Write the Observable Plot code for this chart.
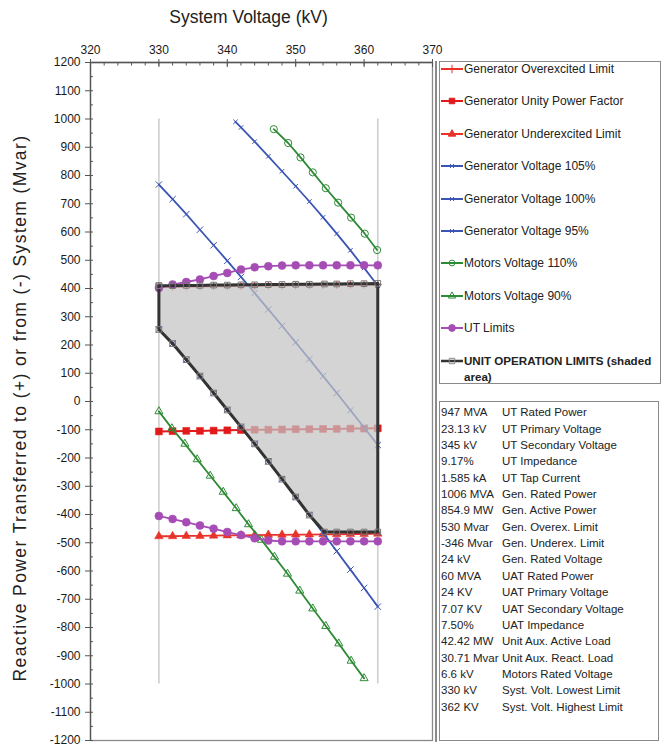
<!DOCTYPE html>
<html><head><meta charset="utf-8">
<script src="https://cdn.jsdelivr.net/npm/d3@7"></script>
<script src="https://cdn.jsdelivr.net/npm/@observablehq/plot@0.6"></script>
<style>
body{margin:0;background:#fff;font-family:"Liberation Sans",Arial,sans-serif;color:#222;}
#wrap{position:relative;width:668px;height:744px;overflow:hidden;background:#fff;}
#chart{position:absolute;left:0;top:0;}
.xtitle{position:absolute;left:90px;width:317px;top:7px;text-align:center;font-size:17.5px;line-height:20px;white-space:nowrap;}
.ytitle{position:absolute;left:20px;top:408px;transform:translate(-50%,-50%) rotate(-90deg);font-size:17.5px;line-height:20px;white-space:nowrap;letter-spacing:1.4px;}
.frameR{position:absolute;left:435px;top:61px;width:1.5px;height:681px;background:#8a8a8a;}
#legend{position:absolute;left:439px;top:61px;width:220px;height:321px;border:1px solid #8a8a8a;}
.lrow{position:absolute;left:1px;height:16px;display:flex;align-items:center;font-size:12px;white-space:nowrap;}
.lrow svg{flex:none;margin-right:1px;}
#info{position:absolute;left:439px;top:401px;width:218px;height:338px;border:1px solid #8a8a8a;font-size:11.5px;}
.irow{position:absolute;left:1px;height:16px;line-height:16px;white-space:nowrap;}
.irow .v{display:inline-block;width:61px;}
</style>
</head><body>
<div id="wrap">
  <div id="chart"></div>
  <div class="xtitle">System Voltage (kV)</div>
  <div class="ytitle">Reactive Power Transferred to (+) or from (-) System (Mvar)</div>
  <div class="frameR"></div>
  <div id="legend"></div>
  <div id="info"></div>
</div>
<script>
// ---- axes ----
const xDomain = [320, 370];
const yDomain = [-1200, 1200];
const xMajorTicks = [320, 330, 340, 350, 360, 370];
const yMajorTicks = [1200, 1100, 1000, 900, 800, 700, 600, 500, 400, 300, 200, 100, 0, -100, -200, -300, -400, -500, -600, -700, -800, -900, -1000, -1100, -1200];
const xMinorTicks = d3.range(320, 371, 2);
const yMinorTicks = d3.range(-1200, 1201, 50);

// ---- voltage limit guides ----
const guideVolts = [330, 362];
const guideRange = [-1000, 1000];

// ---- series ----
const volts2 = [330, 332, 334, 336, 338, 340, 342, 344, 346, 348, 350, 352, 354, 356, 358, 360, 362];
const overexQ = [406, 406, 407, 407, 408, 408, 409, 409, 410, 410, 411, 411, 412, 412, 413, 413, 414];
const unityQ = [-106, -105, -104, -104, -103, -102, -101, -100, -100, -99, -98, -98, -97, -97, -96, -96, -95];
const underexQ = [-477, -477, -476, -476, -475, -474, -474, -473, -472, -472, -471, -471, -470, -470, -469, -469, -468];

const genV105Volt = [341.2, 342, 344, 346, 348, 350, 352, 354, 356, 358, 360, 362];
const genV105Q = [990, 970, 920, 868, 815, 762, 708, 652, 594, 535, 473, 410];
const genV100Q = [768, 716, 663, 608, 553, 498, 441, 384, 326, 268, 209, 150, 90, 30, -31, -92, -154];
const genV95Q = [255, 205, 148, 90, 30, -30, -90, -150, -212, -275, -338, -402, -465, -530, -595, -660, -726];

const mot110Volt = [346.8, 348.9, 350.7, 352.5, 354.4, 356.2, 358.1, 360.1, 361.9];
const mot110Q = [964, 915, 864, 811, 755, 704, 651, 594, 536];
const mot90Volt = [330, 331.9, 333.8, 335.6, 337.5, 339.4, 341.3, 343.1, 345.0, 346.9, 348.8, 350.6, 352.5, 354.4, 356.3, 358.1, 360.0];
const mot90Q = [-35, -95, -150, -205, -263, -320, -378, -435, -490, -550, -610, -670, -733, -795, -857, -918, -980];

const utUpperQ = [402, 414, 423, 432, 444, 455, 467, 475, 479, 481, 482, 482, 482, 482, 482, 482, 482];
const utLowerQ = [-405, -416, -427, -439, -450, -462, -473, -484, -492, -495, -495, -495, -495, -495, -495, -495, -495];

const opVolt = [330, 332, 334, 336, 338, 340, 342, 344, 346, 348, 350, 352, 354.2, 356, 358, 360, 362];
const opUpperQ = [410, 410, 411, 411, 412, 412, 413, 413, 414, 414, 415, 415, 416, 416, 417, 417, 418];
const opLowerQ = [255, 205, 148, 90, 30, -30, -90, -150, -212, -275, -338, -402, -462, -462, -462, -462, -462];

// ---- legend / info texts ----
const legendLabels = ["Generator Overexcited Limit", "Generator Unity Power Factor", "Generator Underexcited Limit",
  "Generator Voltage 105%", "Generator Voltage 100%", "Generator Voltage 95%",
  "Motors Voltage 110%", "Motors Voltage 90%", "UT Limits", "UNIT OPERATION LIMITS (shaded area)"];
const infoValues = ["947 MVA", "23.13 kV", "345 kV", "9.17%", "1.585 kA", "1006 MVA", "854.9 MW", "530 Mvar", "-346 Mvar", "24 kV", "60 MVA", "24 KV", "7.07 KV", "7.50%", "42.42 MW", "30.71 Mvar", "6.6 kV", "330 kV", "362 KV"];
const infoLabels = ["UT Rated Power", "UT Primary Voltage", "UT Secondary Voltage", "UT Impedance", "UT Tap Current", "Gen. Rated Power", "Gen. Active Power", "Gen. Overex. Limit", "Gen. Underex. Limit", "Gen. Rated Voltage", "UAT Rated Power", "UAT Primary Voltage", "UAT Secondary Voltage", "UAT Impedance", "Unit Aux. Active Load", "Unit Aux. React. Load", "Motors Rated Voltage", "Syst. Volt. Lowest Limit", "Syst. Volt. Highest Limit"];

// ---- colours ----
const RED = "#e8332a", RED2 = "#e31a1c", BLUE = "#3b55b5", GREEN = "#2e8b35", PURPLE = "#a64db5", DARK = "#333333";

const pts = (xs, ys) => xs.map((x, i) => ({x, y: ys[i]}));
const overex = pts(volts2, overexQ);
const unity = pts(volts2, unityQ);
const underex = pts(volts2, underexQ);
const gen105 = pts(genV105Volt, genV105Q);
const gen100 = pts(volts2, genV100Q);
const gen95 = pts(volts2, genV95Q);
const mot110 = pts(mot110Volt, mot110Q);
const mot90 = pts(mot90Volt, mot90Q);
const utUp = pts(volts2, utUpperQ);
const utLo = pts(volts2, utLowerQ);
const opArea = opVolt.map((x, i) => ({x, lo: opLowerQ[i], hi: opUpperQ[i]}));
const opOutline = [...pts(opVolt, opUpperQ), ...pts(opVolt, opLowerQ).reverse()];
opOutline.push(opOutline[0]);

function series(data, color, symbol, opts = {}) {
  const hollow = symbol === "plus" || symbol === "times" || opts.hollow;
  return [
    Plot.line(data, {x: "x", y: "y", stroke: color, strokeWidth: opts.sw ?? 1.8}),
    Plot.dot(data, {x: "x", y: "y", symbol, r: opts.r ?? 3,
      fill: hollow ? "none" : color, stroke: color, strokeWidth: hollow ? 1 : 0.5})
  ];
}

const chart = Plot.plot({
  width: 440, height: 744,
  marginTop: 62, marginLeft: 90, marginRight: 8, marginBottom: 4,
  x: {domain: xDomain},
  y: {domain: yDomain},
  style: {fontFamily: "Liberation Sans, Arial, sans-serif", fontSize: "12px", color: "#1a1a1a", background: "transparent", overflow: "visible"},
  marks: [
    Plot.frame({stroke: "#8a8a8a", strokeWidth: 1.3}),
    Plot.ruleY([yDomain[1]], {stroke: "#555", strokeWidth: 1.3}),
    Plot.ruleX([xDomain[0]], {stroke: "#555", strokeWidth: 1.3}),
    Plot.axisX({anchor: "top", ticks: xMajorTicks, tickSize: 4, tickPadding: 5, label: null, tickFormat: d => String(d), stroke: "#555"}),
    Plot.axisX({anchor: "top", ticks: xMajorTicks, tickSize: 4, dy: 4, label: null, tickFormat: () => "", stroke: "#555"}),
    Plot.axisX({anchor: "top", ticks: xMinorTicks, tickSize: 2.5, dy: 2.5, label: null, tickFormat: () => "", stroke: "#555"}),
    Plot.axisY({anchor: "left", ticks: yMajorTicks, tickSize: 5, tickPadding: 5, label: null, tickFormat: d => String(d), stroke: "#555"}),
    Plot.axisY({anchor: "left", ticks: yMinorTicks, tickSize: 3, dx: 3, label: null, tickFormat: () => "", stroke: "#555"}),

    Plot.ruleX(guideVolts, {y1: guideRange[0], y2: guideRange[1], stroke: "#cfcfcf", strokeWidth: 1.6}),

    ...series(unity, RED2, "square", {r: 3.9, sw: 2}),
    ...series(overex, RED, "plus", {r: 2.6}),
    ...series(underex, RED, "triangle", {r: 3.2}),
    ...series(gen100, BLUE, "times", {r: 3}),

    Plot.areaY(opArea, {x: "x", y1: "lo", y2: "hi", fill: "#c4c4c4", fillOpacity: 0.72, curve: "linear"}),

    ...series(gen105, BLUE, "times", {r: 2.2}),
    ...series(gen95, BLUE, "times", {r: 3}),
    ...series(mot110, GREEN, "circle", {r: 3.6, hollow: true}),
    ...series(mot90, GREEN, "triangle", {r: 3, hollow: true}),
    ...series(utUp, PURPLE, "circle", {r: 4}),
    ...series(utLo, PURPLE, "circle", {r: 4}),

    Plot.line(opOutline, {x: "x", y: "y", stroke: DARK, strokeWidth: 3, strokeLinejoin: "round"}),
    Plot.dot(opOutline, {x: "x", y: "y", symbol: "square", r: 3.2, fill: "none", stroke: "#777", strokeWidth: 1})
  ]
});
document.getElementById("chart").appendChild(chart);

// ---- legend ----
const legendStyle = [
  {c: RED, s: d3.symbolPlus, f: RED, size: 26},
  {c: RED2, s: d3.symbolSquare, f: RED2, size: 30},
  {c: RED, s: d3.symbolTriangle, f: RED, size: 24},
  {c: BLUE, s: d3.symbolTimes, f: "none", size: 12},
  {c: BLUE, s: d3.symbolTimes, f: "none", size: 12},
  {c: BLUE, s: d3.symbolTimes, f: "none", size: 12},
  {c: GREEN, s: d3.symbolCircle, f: "none", size: 26},
  {c: GREEN, s: d3.symbolTriangle, f: "none", size: 22},
  {c: PURPLE, s: d3.symbolCircle, f: PURPLE, size: 36},
  {c: DARK, s: d3.symbolSquare, f: "none", size: 30}
];
const legendEl = document.getElementById("legend");
legendLabels.forEach((lab, i) => {
  const st = legendStyle[i];
  const path = d3.symbol(st.s, st.size)();
  const row = document.createElement("div");
  row.className = "lrow";
  row.style.top = (-1 + i * 32.4) + "px";
  const last = i === legendLabels.length - 1;
  if (last) { row.style.height = "34px"; row.style.alignItems = "flex-start"; }
  row.innerHTML = `<svg width="22" height="16" viewBox="0 0 22 16"><line x1="0" y1="8" x2="22" y2="8" stroke="${st.c}" stroke-width="${last ? 2.5 : 2}"/><path d="${path}" transform="translate(11,8)" fill="${st.f}" stroke="${last ? '#888' : st.c}" stroke-width="1"/></svg>` +
    (last ? `<span style="font-weight:bold;line-height:16.6px;white-space:normal;width:196px;font-size:11.6px;">${lab}</span>` : `<span>${lab}</span>`);
  legendEl.appendChild(row);
});

// ---- info ----
const infoEl = document.getElementById("info");
infoValues.forEach((v, i) => {
  const row = document.createElement("div");
  row.className = "irow";
  row.style.top = (2.3 + i * 16.35) + "px";
  row.innerHTML = `<span class="v">${v}</span><span>${infoLabels[i]}</span>`;
  infoEl.appendChild(row);
});
</script>
</body></html>
